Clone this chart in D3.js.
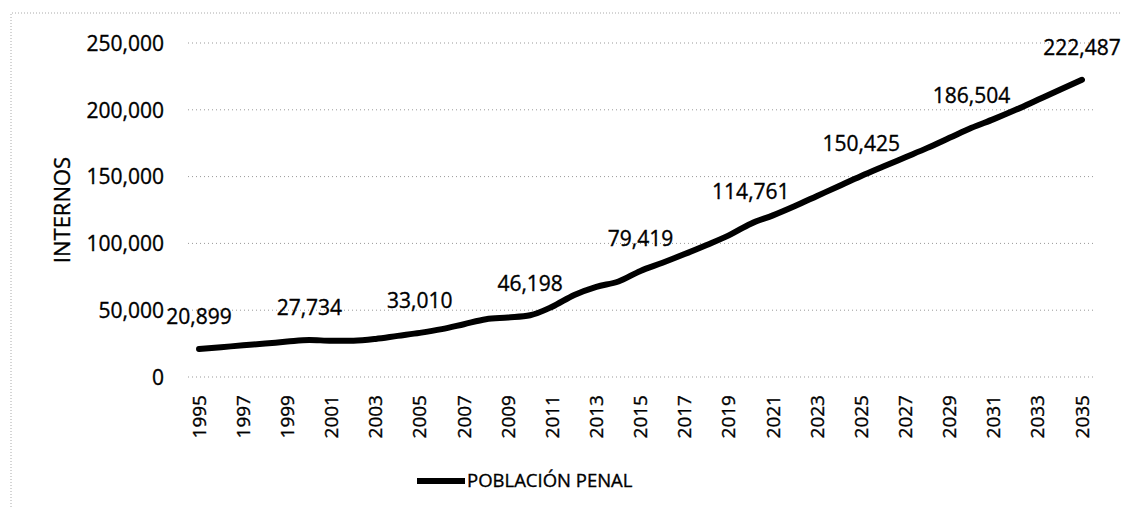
<!DOCTYPE html>
<html>
<head>
<meta charset="utf-8">
<script src="https://cdn.jsdelivr.net/npm/d3@7"></script>
<style>
  body { margin: 0; background: #fff; }
  text { font-family: "Open Sans", sans-serif; fill: #000; stroke: #000; stroke-width: 0.35px; }
</style>
</head>
<body>
<div id="chart"></div>
<script>
// years 1995..2035
var years = [1995,1996,1997,1998,1999,2000,2001,2002,2003,2004,2005,2006,2007,2008,2009,2010,
  2011,2012,2013,2014,2015,2016,2017,2018,2019,2020,2021,2022,2023,2024,2025,2026,2027,2028,
  2029,2030,2031,2032,2033,2034,2035];
var internos = [20899,22300,23700,25000,26500,27734,27100,27200,28500,30800,33010,35800,39500,
  43200,44500,46198,52600,61400,67500,71500,79419,85500,92000,98800,106000,114761,121000,
  128000,135500,143000,150425,157500,164500,171500,179000,186504,193000,200000,207500,215000,222487];
var labelYears = [1995,2000,2005,2010,2015,2020,2025,2030,2035];
var yTicks = [0,50000,100000,150000,200000,250000];
var seriesName = "POBLACIÓN PENAL";
var axisTitle = "INTERNOS";

var W = 1121, H = 507;
var svg = d3.select("#chart").append("svg").attr("width", W).attr("height", H);

// outer dotted frame
svg.append("path")
  .attr("d", "M11,507V13H1121")
  .attr("fill", "none")
  .attr("stroke", "#aaa")
  .attr("stroke-width", 1)
  .attr("stroke-dasharray", "1,2");

var x = d3.scaleBand().domain(years).range([188, 1093]);
var y = d3.scaleLinear().domain([0, 250000]).range([377, 43]);
var fmt = d3.format(",");

// grid
svg.selectAll(".grid").data(yTicks).enter().append("line")
  .attr("class", "grid")
  .attr("x1", 188).attr("x2", 1093)
  .attr("y1", d => y(d)).attr("y2", d => y(d))
  .attr("stroke", "#999")
  .attr("stroke-width", 1)
  .attr("stroke-dasharray", "1,3");

// y axis labels
var yAxis = d3.axisLeft(y).tickValues(yTicks).tickFormat(fmt).tickSize(0).tickPadding(0);
var gy = svg.append("g").attr("transform", "translate(164,0)").call(yAxis);
gy.select(".domain").remove();
gy.selectAll("text").style("font-size", "21px").attr("fill", "#000").attr("dy", "0.35em");

// x axis labels (every other year)
var xAxis = d3.axisBottom(x).tickValues(years.filter(d => (d - 1995) % 2 === 0)).tickSize(0);
var gx = svg.append("g").attr("transform", "translate(0,395)").call(xAxis);
gx.select(".domain").remove();
gx.selectAll("text")
  .style("font-size", "19px")
  .attr("fill", "#000")
  .attr("transform", "rotate(-90)")
  .attr("text-anchor", "end")
  .attr("x", 0).attr("y", 0).attr("dy", "0.35em");

// axis title
svg.append("text")
  .attr("transform", "translate(62,210) rotate(-90)")
  .attr("text-anchor", "middle")
  .attr("dy", "0.35em")
  .style("font-size", "22px")
  .text(axisTitle);

var cx = d => x(d) + x.bandwidth() / 2;

// line
var line = d3.line()
  .x((d, i) => cx(years[i]))
  .y(d => y(d))
  .curve(d3.curveMonotoneX);

svg.append("path")
  .datum(internos)
  .attr("d", line)
  .attr("fill", "none")
  .attr("stroke", "#000")
  .attr("stroke-width", 6)
  .attr("stroke-linecap", "round")
  .attr("stroke-linejoin", "round");

// data labels
svg.selectAll(".dlabel").data(labelYears).enter().append("text")
  .attr("class", "dlabel")
  .attr("x", d => cx(d))
  .attr("y", d => y(internos[years.indexOf(d)]) - 32)
  .attr("text-anchor", "middle")
  .attr("dy", "0.35em")
  .style("font-size", "21px")
  .text(d => fmt(internos[years.indexOf(d)]));

// legend
var lg = svg.append("g").attr("transform", "translate(417,481)");
lg.append("line").attr("x1", 0).attr("x2", 48).attr("y1", 0).attr("y2", 0)
  .attr("stroke", "#000").attr("stroke-width", 6);
lg.append("text").attr("x", 50).attr("dy", "0.35em").style("font-size", "18.5px").text(seriesName);
</script>
</body>
</html>
